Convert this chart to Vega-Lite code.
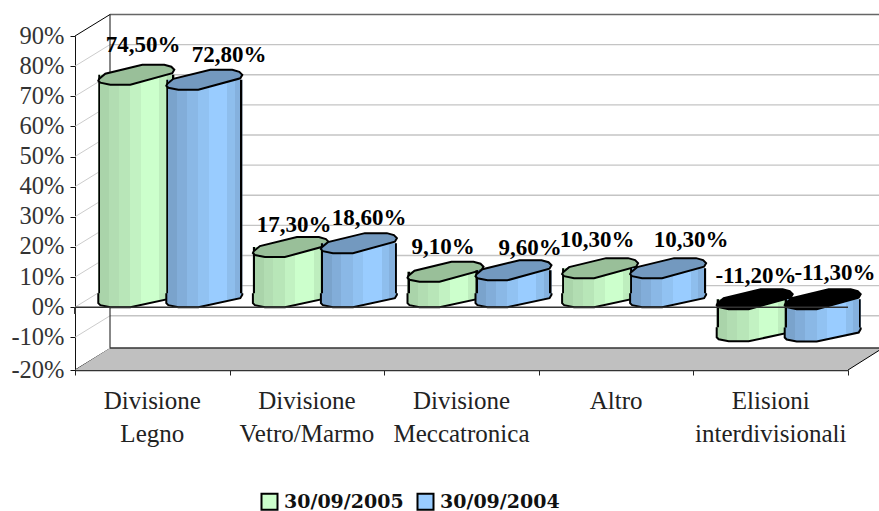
{"$schema":"https://vega.github.io/schema/vega-lite/v6.json","width":773,"height":334,"autosize":{"type":"none"},"padding":{"left":75,"top":36,"right":31,"bottom":141},"background":"white","config":{"view":{"stroke":null}},
"datasets":{"bars":[
{"id":1,"category":"Divisione Legno","series":"30/09/2005","value":74.5,"hi":74.5,"lo":0,"label":"74,50%"},
{"id":2,"category":"Divisione Legno","series":"30/09/2004","value":72.8,"hi":72.8,"lo":0,"label":"72,80%"},
{"id":3,"category":"Divisione Vetro/Marmo","series":"30/09/2005","value":17.3,"hi":17.3,"lo":0,"label":"17,30%"},
{"id":4,"category":"Divisione Vetro/Marmo","series":"30/09/2004","value":18.6,"hi":18.6,"lo":0,"label":"18,60%"},
{"id":5,"category":"Divisione Meccatronica","series":"30/09/2005","value":9.1,"hi":9.1,"lo":0,"label":"9,10%"},
{"id":6,"category":"Divisione Meccatronica","series":"30/09/2004","value":9.6,"hi":9.6,"lo":0,"label":"9,60%"},
{"id":7,"category":"Altro","series":"30/09/2005","value":10.3,"hi":10.3,"lo":0,"label":"10,30%"},
{"id":8,"category":"Altro","series":"30/09/2004","value":10.3,"hi":10.3,"lo":0,"label":"10,30%"},
{"id":9,"category":"Elisioni interdivisionali","series":"30/09/2005","value":-11.2,"hi":0,"lo":-11.2,"label":"-11,20%"},
{"id":10,"category":"Elisioni interdivisionali","series":"30/09/2004","value":-11.3,"hi":0,"lo":-11.3,"label":"-11,30%"}],
"ticks":[{"v":-20},{"v":-10},{"v":0},{"v":10},{"v":20},{"v":30},{"v":40},{"v":50},{"v":60},{"v":70},{"v":80},{"v":90}],
"tickPts":[{"p":1},{"p":2},{"p":3},{"p":4},{"p":5}]},
"resolve":{"scale":{"x":"independent"},"axis":{"x":"independent","y":"independent"}},
"layer":[
{"data":{"name":"ticks"},"mark":{"type":"rule","opacity":0},"encoding":{"y":{"field":"v","type":"quantitative","scale":{"domain":[-20,-10,90],"range":[334,301.3,0]},"axis":{"values":[-20,-10,0,10,20,30,40,50,60,70,80,90],"labelExpr":"datum.value+'%'","title":null,"grid":false,"tickSize":5,"tickColor":"#111111","domainColor":"#111111","labelFont":"Liberation Serif","labelFontSize":24.5,"labelColor":"#333333","labelPadding":6,"labelOverlap":false,"labelBound":false,"labelFlush":false}}}},
{"encoding":{"x":{"datum":0,"type":"quantitative","scale":{"domain":[0,5],"range":[0,773]},"axis":{"values":[0,1,2,3,4,5],"labels":false,"title":null,"grid":false,"tickSize":5,"tickColor":"#222222","domainColor":"#333333","domainWidth":1.5,"orient":"bottom"}}},
"layer":[
{"data":{"name":"ticks"},"transform":[{"filter":"datum.v>-20"}],"mark":{"type":"rule","yOffset":-21.5,"strokeWidth":1.4},"encoding":{"x":{"datum":0.2264,"type":"quantitative"},"x2":{"datum":5.2264},"y":{"field":"v","type":"quantitative","axis":null},"stroke":{"condition":{"test":"datum.v==90","value":"#666666"},"value":"#c4c4c4"}}},
{"data":{"name":"ticks"},"mark":{"type":"rule","y2Offset":-21.5,"strokeWidth":1},"encoding":{"x":{"datum":0,"type":"quantitative"},"x2":{"datum":0.2264},"y":{"field":"v","type":"quantitative","axis":null},"y2":{"field":"v"},"stroke":{"condition":{"test":"datum.v==90||datum.v==-20","value":"#000000"},"value":"#cccccc"}}},
{"data":{"values":[{"a":-13.25,"b":90}]},"mark":{"type":"rule","color":"#111111","strokeWidth":1,"y2Offset":-21.5},"encoding":{"x":{"datum":0.2264,"type":"quantitative"},"y":{"field":"a","type":"quantitative","axis":null},"y2":{"field":"b"}}},
{"data":{"values":[{"a":-20}]},"mark":{"type":"point","shape":"M0,0L35,-22L808,-22L773,0Z","size":4,"filled":true,"fill":"#c0c0c0","opacity":1,"strokeWidth":0},"encoding":{"x":{"datum":0,"type":"quantitative"},"y":{"field":"a","type":"quantitative","axis":null}}},
{"data":{"values":[{"a":-13.25}]},"mark":{"type":"rule","color":"#333333","strokeWidth":1.5},"encoding":{"x":{"datum":0.2264,"type":"quantitative"},"x2":{"datum":5.2264},"y":{"field":"a","type":"quantitative","axis":null}}},
{"data":{"values":[{"a":-20,"b":-13.25}]},"mark":{"type":"rule","color":"#000000","strokeWidth":1},"encoding":{"x":{"datum":5,"type":"quantitative"},"x2":{"datum":5.2264},"y":{"field":"a","type":"quantitative","axis":null},"y2":{"field":"b"}}}
]},
{"data":{"name":"bars"},"encoding":{"x":{"field":"category","type":"nominal","sort":null,"scale":{"domain":["Divisione Legno","Divisione Vetro/Marmo","Divisione Meccatronica","Altro","Elisioni interdivisionali"],"paddingInner":0,"paddingOuter":0},"axis":{"orient":"bottom","title":null,"domain":false,"ticks":false,"labelAngle":0,"labelAlign":"center","labelBaseline":"top","labelExpr":"split(datum.value,' ')","labelFont":"Liberation Serif","labelFontSize":25,"labelColor":"#222222","labelLineHeight":33,"labelPadding":18,"labelLimit":300,"labelOverlap":false,"labelBound":false,"labelFlush":false,"grid":false}},"y":{"field":"hi","type":"quantitative","axis":null}},
"layer":[
{"transform":[{"filter":"datum.series=='30/09/2005'"}],"mark":{"type":"bar","width":76,"xOffset":-16,"yOffset":-8,"y2Offset":-13},"encoding":{"y2":{"field":"lo"},"fill":{"field":"series","type":"nominal","sort":null,"scale":{"domain":["30/09/2005","30/09/2004"],"range":["#CCFFCC","#99CCFF"]},"legend":{"title":null,"orient":"none","legendX":185,"legendY":456,"direction":"horizontal","columns":2,"symbolType":"square","symbolSize":256,"symbolStrokeColor":"#000000","symbolStrokeWidth":2,"symbolOpacity":1,"labelFont":"DejaVu Serif","labelFontWeight":"bold","labelFontSize":19,"labelColor":"#111111","labelLimit":200,"columnPadding":9,"labelOffset":5}}}},
{"transform":[{"filter":"datum.series=='30/09/2004'"}],"mark":{"type":"bar","width":76,"xOffset":52,"yOffset":-8,"y2Offset":-13},"encoding":{"y2":{"field":"lo"},"fill":{"field":"series","type":"nominal","sort":null}}},
{"transform":[{"filter":"datum.series=='30/09/2005'"}],"mark":{"type":"bar","width":76,"xOffset":-16,"yOffset":-8,"y2Offset":-13,"fill":{"gradient":"linear","x1":0,"x2":1,"y1":0,"y2":0,"stops":[{"offset":0,"color":"#000000"},{"offset":0.027,"color":"#000000"},{"offset":0.027,"color":"#AAD4AA"},{"offset":0.14,"color":"#AAD4AA"},{"offset":0.14,"color":"#B2DDB2"},{"offset":0.27,"color":"#B2DDB2"},{"offset":0.27,"color":"#B8E6B8"},{"offset":0.42,"color":"#B8E6B8"},{"offset":0.42,"color":"#C2F2C2"},{"offset":0.56,"color":"#C2F2C2"},{"offset":0.56,"color":"#CCFFCC"},{"offset":0.8,"color":"#CCFFCC"},{"offset":0.8,"color":"#BEEEBE"},{"offset":0.9,"color":"#BEEEBE"},{"offset":0.9,"color":"#B2DDB2"},{"offset":0.973,"color":"#B2DDB2"},{"offset":0.973,"color":"#000000"},{"offset":1,"color":"#000000"}]}},"encoding":{"y2":{"field":"lo"}}},
{"transform":[{"filter":"datum.series=='30/09/2005'"}],"mark":{"type":"point","xOffset":-16,"shape":"M-38,-14L-38,-4L-36,-2L-26,0L-6,0L36,-9L38,-12.5L38,-14","size":4,"filled":true,"opacity":1,"stroke":"#000000","strokeWidth":2,"fill":{"gradient":"linear","x1":0,"x2":1,"y1":0,"y2":0,"stops":[{"offset":0,"color":"#AAD4AA"},{"offset":0.14,"color":"#AAD4AA"},{"offset":0.14,"color":"#B2DDB2"},{"offset":0.27,"color":"#B2DDB2"},{"offset":0.27,"color":"#B8E6B8"},{"offset":0.42,"color":"#B8E6B8"},{"offset":0.42,"color":"#C2F2C2"},{"offset":0.56,"color":"#C2F2C2"},{"offset":0.56,"color":"#CCFFCC"},{"offset":0.8,"color":"#CCFFCC"},{"offset":0.8,"color":"#BEEEBE"},{"offset":1,"color":"#B2DDB2"}]}},"encoding":{"y":{"field":"lo","type":"quantitative","axis":null}}},
{"transform":[{"filter":"datum.series=='30/09/2005'"}],"mark":{"type":"point","xOffset":-16,"shape":"M-38,-2L-36,0L-26,2L-6,2L36,-9.5L38,-13L35,-16L28,-18L6,-18L-31,-9L-37,-4Z","size":4,"filled":true,"opacity":1,"stroke":"#000000","strokeWidth":2},"encoding":{"fill":{"condition":{"test":"datum.value<0","value":"#000000"},"value":"#99BF99"}}},
{"transform":[{"filter":"datum.series=='30/09/2004'"}],"mark":{"type":"bar","width":76,"xOffset":52,"yOffset":-8,"y2Offset":-13,"fill":{"gradient":"linear","x1":0,"x2":1,"y1":0,"y2":0,"stops":[{"offset":0,"color":"#000000"},{"offset":0.027,"color":"#000000"},{"offset":0.027,"color":"#7AA3CC"},{"offset":0.14,"color":"#7AA3CC"},{"offset":0.14,"color":"#82ADD9"},{"offset":0.27,"color":"#82ADD9"},{"offset":0.27,"color":"#8AB8E6"},{"offset":0.42,"color":"#8AB8E6"},{"offset":0.42,"color":"#91C2F2"},{"offset":0.56,"color":"#91C2F2"},{"offset":0.56,"color":"#99CCFF"},{"offset":0.8,"color":"#99CCFF"},{"offset":0.8,"color":"#8EBEED"},{"offset":0.9,"color":"#8EBEED"},{"offset":0.9,"color":"#85B1DE"},{"offset":0.973,"color":"#85B1DE"},{"offset":0.973,"color":"#000000"},{"offset":1,"color":"#000000"}]}},"encoding":{"y2":{"field":"lo"}}},
{"transform":[{"filter":"datum.series=='30/09/2004'"}],"mark":{"type":"point","xOffset":52,"shape":"M-38,-14L-38,-4L-36,-2L-26,0L-6,0L36,-9L38,-12.5L38,-14","size":4,"filled":true,"opacity":1,"stroke":"#000000","strokeWidth":2,"fill":{"gradient":"linear","x1":0,"x2":1,"y1":0,"y2":0,"stops":[{"offset":0,"color":"#7AA3CC"},{"offset":0.14,"color":"#7AA3CC"},{"offset":0.14,"color":"#82ADD9"},{"offset":0.27,"color":"#82ADD9"},{"offset":0.27,"color":"#8AB8E6"},{"offset":0.42,"color":"#8AB8E6"},{"offset":0.42,"color":"#91C2F2"},{"offset":0.56,"color":"#91C2F2"},{"offset":0.56,"color":"#99CCFF"},{"offset":0.8,"color":"#99CCFF"},{"offset":0.8,"color":"#8EBEED"},{"offset":0.9,"color":"#8EBEED"},{"offset":0.9,"color":"#85B1DE"},{"offset":1,"color":"#85B1DE"}]}},"encoding":{"y":{"field":"lo","type":"quantitative","axis":null}}},
{"transform":[{"filter":"datum.series=='30/09/2004'"}],"mark":{"type":"point","xOffset":52,"shape":"M-38,-2L-36,0L-26,2L-6,2L36,-9.5L38,-13L35,-16L28,-18L6,-18L-31,-9L-37,-4Z","size":4,"filled":true,"opacity":1,"stroke":"#000000","strokeWidth":2},"encoding":{"fill":{"condition":{"test":"datum.value<0","value":"#000000"},"value":"#7399BF"}}}
]},
{"encoding":{"x":{"datum":0,"type":"quantitative","scale":{"domain":[0,5],"range":[0,773]},"axis":null}},"layer":[
{"data":{"values":[{"a":0}]},"mark":{"type":"rule","color":"#333333","strokeWidth":1.5},"encoding":{"x":{"datum":0,"type":"quantitative"},"x2":{"datum":5},"y":{"field":"a","type":"quantitative","axis":null}}},
{"data":{"name":"tickPts"},"mark":{"type":"rule","color":"#333333","strokeWidth":1},"encoding":{"x":{"field":"p","type":"quantitative"},"y":{"datum":0,"type":"quantitative","axis":null},"y2":{"datum":-2.2}}}
]},
{"data":{"name":"bars"},"encoding":{"x":{"field":"category","type":"nominal","sort":null,"scale":{"domain":["Divisione Legno","Divisione Vetro/Marmo","Divisione Meccatronica","Altro","Elisioni interdivisionali"],"paddingInner":0,"paddingOuter":0},"axis":null},"y":{"field":"hi","type":"quantitative","axis":null},"text":{"field":"label"}},
"layer":[
{"transform":[{"filter":"datum.id==1"}],"mark":{"type":"text","font":"Liberation Serif","fontWeight":"bold","fontSize":23,"color":"#000000","xOffset":-9.3,"yOffset":-38}},
{"transform":[{"filter":"datum.id==2"}],"mark":{"type":"text","font":"Liberation Serif","fontWeight":"bold","fontSize":23,"color":"#000000","xOffset":76.7,"yOffset":-33}},
{"transform":[{"filter":"datum.id==3"}],"mark":{"type":"text","font":"Liberation Serif","fontWeight":"bold","fontSize":23,"color":"#000000","xOffset":-12.9,"yOffset":-30}},
{"transform":[{"filter":"datum.id==4"}],"mark":{"type":"text","font":"Liberation Serif","fontWeight":"bold","fontSize":23,"color":"#000000","xOffset":62.1,"yOffset":-33}},
{"transform":[{"filter":"datum.id==5"}],"mark":{"type":"text","font":"Liberation Serif","fontWeight":"bold","fontSize":23,"color":"#000000","xOffset":-18.5,"yOffset":-33}},
{"transform":[{"filter":"datum.id==6"}],"mark":{"type":"text","font":"Liberation Serif","fontWeight":"bold","fontSize":23,"color":"#000000","xOffset":68.5,"yOffset":-30}},
{"transform":[{"filter":"datum.id==7"}],"mark":{"type":"text","font":"Liberation Serif","fontWeight":"bold","fontSize":23,"color":"#000000","xOffset":-19.1,"yOffset":-36}},
{"transform":[{"filter":"datum.id==8"}],"mark":{"type":"text","font":"Liberation Serif","fontWeight":"bold","fontSize":23,"color":"#000000","xOffset":74.9,"yOffset":-36}},
{"transform":[{"filter":"datum.id==9"}],"mark":{"type":"text","font":"Liberation Serif","fontWeight":"bold","fontSize":23,"color":"#000000","xOffset":-14.7,"yOffset":-31}},
{"transform":[{"filter":"datum.id==10"}],"mark":{"type":"text","font":"Liberation Serif","fontWeight":"bold","fontSize":23,"color":"#000000","xOffset":64.3,"yOffset":-34}}
]}
]}
